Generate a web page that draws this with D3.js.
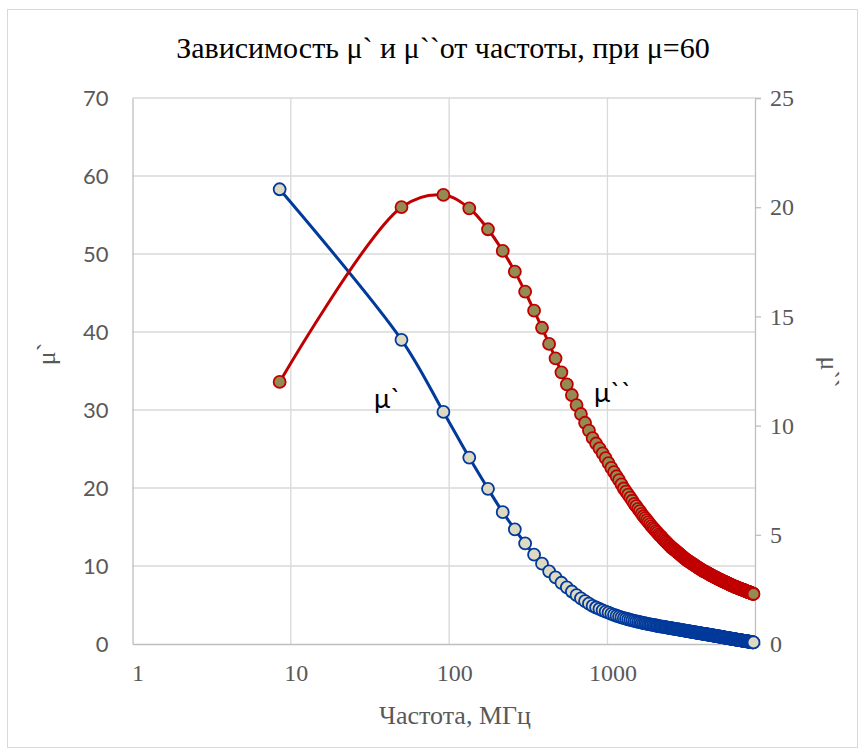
<!DOCTYPE html>
<html>
<head>
<meta charset="utf-8">
<script src="https://cdn.jsdelivr.net/npm/d3@7"></script>
<style>
  body { margin: 0; background: #fff; }
  svg { display: block; }
</style>
</head>
<body>
<svg id="chart" width="863" height="754"></svg>
<script>
// Frequency, MHz
const freqMHz = [8.5,
  50, 92, 134, 176, 218, 260, 302, 344, 386,
  428, 470, 512, 554, 596, 638, 680, 722, 764, 806,
  848, 890, 932, 974, 1016, 1058, 1100, 1142, 1184, 1226,
  1268, 1310, 1352, 1394, 1436, 1478, 1520, 1562, 1604, 1646,
  1688, 1730, 1772, 1814, 1856, 1898, 1940, 1982, 2024, 2066,
  2108, 2150, 2192, 2234, 2276, 2318, 2360, 2402, 2444, 2486,
  2528, 2570, 2612, 2654, 2696, 2738, 2780, 2822, 2864, 2906,
  2948, 2990, 3032, 3074, 3116, 3158, 3200, 3242, 3284, 3326,
  3368, 3410, 3452, 3494, 3536, 3578, 3620, 3662, 3704, 3746,
  3788, 3830, 3872, 3914, 3956, 3998, 4040, 4082, 4124, 4166,
  4208, 4250, 4292, 4334, 4376, 4418, 4460, 4502, 4544, 4586,
  4628, 4670, 4712, 4754, 4796, 4838, 4880, 4922, 4964, 5006,
  5048, 5090, 5132, 5174, 5216, 5258, 5300, 5342, 5384, 5426,
  5468, 5510, 5552, 5594, 5636, 5678, 5720, 5762, 5804, 5846,
  5888, 5930, 5972, 6014, 6056, 6098, 6140, 6182, 6224, 6266,
  6308, 6350, 6392, 6434, 6476, 6518, 6560, 6602, 6644, 6686,
  6728, 6770, 6812, 6854, 6896, 6938, 6980, 7022, 7064, 7106,
  7148, 7190, 7232, 7274, 7316, 7358, 7400, 7442, 7484, 7526,
  7568, 7610, 7652, 7694, 7736, 7778, 7820, 7862, 7904, 7946,
  7988, 8030, 8072, 8114, 8156, 8198, 8240, 8282, 8324, 8366];

// Real part of permeability, μ` (left axis)
const muReal = [58.3,
  39.0, 29.75, 23.9, 19.9, 16.9, 14.7, 12.9, 11.45, 10.3,
  9.32, 8.55, 7.85, 7.27, 6.73, 6.26, 5.86, 5.50, 5.17, 4.88,
  4.68, 4.49, 4.32, 4.16, 4.01, 3.87, 3.74, 3.62, 3.51, 3.41,
  3.31, 3.24, 3.17, 3.10, 3.03, 2.96, 2.91, 2.85, 2.80, 2.74,
  2.69, 2.65, 2.61, 2.56, 2.52, 2.48, 2.44, 2.41, 2.37, 2.34,
  2.30, 2.27, 2.24, 2.22, 2.19, 2.16, 2.13, 2.10, 2.08, 2.05,
  2.02, 2.00, 1.97, 1.95, 1.92, 1.90, 1.88, 1.86, 1.83, 1.81,
  1.79, 1.77, 1.75, 1.72, 1.70, 1.68, 1.66, 1.64, 1.62, 1.60,
  1.58, 1.56, 1.54, 1.53, 1.51, 1.49, 1.47, 1.46, 1.44, 1.43,
  1.41, 1.39, 1.37, 1.36, 1.34, 1.32, 1.31, 1.29, 1.28, 1.26,
  1.25, 1.23, 1.22, 1.20, 1.19, 1.17, 1.16, 1.14, 1.13, 1.11,
  1.10, 1.09, 1.07, 1.06, 1.04, 1.03, 1.02, 1.00, 0.99, 0.98,
  0.97, 0.96, 0.95, 0.93, 0.92, 0.91, 0.90, 0.88, 0.87, 0.85,
  0.84, 0.83, 0.82, 0.80, 0.79, 0.78, 0.77, 0.76, 0.75, 0.74,
  0.73, 0.72, 0.70, 0.69, 0.68, 0.67, 0.66, 0.65, 0.64, 0.63,
  0.62, 0.61, 0.60, 0.59, 0.58, 0.57, 0.56, 0.55, 0.54, 0.53,
  0.52, 0.51, 0.50, 0.50, 0.49, 0.48, 0.47, 0.46, 0.45, 0.44,
  0.43, 0.42, 0.41, 0.41, 0.40, 0.39, 0.38, 0.37, 0.37, 0.36,
  0.35, 0.34, 0.33, 0.33, 0.32, 0.31, 0.30, 0.29, 0.29, 0.28,
  0.27, 0.26, 0.25, 0.25, 0.24, 0.23, 0.22, 0.22, 0.21, 0.20];

// Imaginary part of permeability, μ`` (right axis)
const muImag = [12.0,
  20.0, 20.56, 19.95, 18.99, 18.0, 17.05, 16.13, 15.26, 14.48,
  13.74, 13.08, 12.44, 11.89, 11.40, 10.94, 10.53, 10.13, 9.77, 9.43,
  9.18, 8.96, 8.73, 8.51, 8.28, 8.06, 7.87, 7.68, 7.50, 7.31,
  7.12, 6.98, 6.84, 6.70, 6.56, 6.42, 6.31, 6.19, 6.08, 5.96,
  5.85, 5.76, 5.67, 5.58, 5.49, 5.40, 5.32, 5.25, 5.17, 5.10,
  5.02, 4.96, 4.90, 4.83, 4.77, 4.71, 4.65, 4.60, 4.54, 4.49,
  4.43, 4.39, 4.35, 4.31, 4.27, 4.23, 4.19, 4.15, 4.11, 4.07,
  4.03, 3.99, 3.96, 3.92, 3.89, 3.85, 3.82, 3.80, 3.77, 3.75,
  3.72, 3.69, 3.67, 3.64, 3.62, 3.59, 3.57, 3.54, 3.52, 3.49,
  3.47, 3.45, 3.43, 3.40, 3.38, 3.36, 3.34, 3.33, 3.31, 3.30,
  3.28, 3.26, 3.24, 3.23, 3.21, 3.19, 3.17, 3.16, 3.14, 3.13,
  3.11, 3.10, 3.08, 3.07, 3.05, 3.04, 3.03, 3.01, 3.00, 2.98,
  2.97, 2.96, 2.95, 2.93, 2.92, 2.91, 2.90, 2.88, 2.87, 2.86,
  2.85, 2.84, 2.83, 2.82, 2.81, 2.80, 2.79, 2.77, 2.76, 2.75,
  2.74, 2.73, 2.72, 2.71, 2.70, 2.69, 2.68, 2.67, 2.66, 2.65,
  2.64, 2.63, 2.62, 2.62, 2.61, 2.60, 2.59, 2.58, 2.58, 2.57,
  2.56, 2.55, 2.54, 2.54, 2.53, 2.52, 2.51, 2.50, 2.50, 2.49,
  2.49, 2.48, 2.47, 2.47, 2.46, 2.45, 2.44, 2.43, 2.43, 2.42,
  2.41, 2.40, 2.40, 2.39, 2.39, 2.38, 2.37, 2.37, 2.36, 2.36,
  2.35, 2.34, 2.34, 2.33, 2.33, 2.32, 2.31, 2.31, 2.30, 2.29];

const xTickValues = [1, 10, 100, 1000];
const leftTickValues = [0, 10, 20, 30, 40, 50, 60, 70];
const rightTickValues = [0, 5, 10, 15, 20, 25];

const titleText = "Зависимость μ` и μ``от частоты, при μ=60";
const xTitle = "Частота, МГц";
const leftTitle = "μ`";
const rightTitle = "μ``";
const realLabel = "μ`";
const imagLabel = "μ``";

const W = 863, H = 754;
const plot = { left: 132.5, right: 755, top: 98, bottom: 644 };

const svg = d3.select("#chart");
svg.append("rect").attr("width", W).attr("height", H).attr("fill", "#fff");
svg.append("rect")
  .attr("x", 7.5).attr("y", 9.5).attr("width", 850).attr("height", 738)
  .attr("fill", "none").attr("stroke", "#d9d9d9").attr("stroke-width", 1);

const x = d3.scaleLog().domain([1, 8550]).range([plot.left, plot.right]);
const yL = d3.scaleLinear().domain([0, 70]).range([plot.bottom, plot.top]);
const yR = d3.scaleLinear().domain([0, 25]).range([plot.bottom, plot.top]);

const gray = "#595959";
const serif = "'Liberation Serif', 'Times New Roman', serif";
const sans = "Lato, 'Liberation Sans', sans-serif";

// gridlines
const grid = svg.append("g");
grid.selectAll("line.h").data(leftTickValues.filter(d => d > 0)).join("line")
  .attr("x1", plot.left).attr("x2", plot.right)
  .attr("y1", d => yL(d)).attr("y2", d => yL(d))
  .attr("stroke", "#d9d9d9").attr("stroke-width", 1.3);
grid.selectAll("line.v").data(xTickValues.filter(d => d > 1)).join("line")
  .attr("x1", d => x(d)).attr("x2", d => x(d))
  .attr("y1", plot.top).attr("y2", plot.bottom)
  .attr("stroke", "#d9d9d9").attr("stroke-width", 1.3);

// left axis
const axL = svg.append("g").attr("transform", `translate(${plot.left},0)`)
  .call(d3.axisLeft(yL).tickValues(leftTickValues).tickSize(0).tickPadding(24));
axL.select(".domain").attr("stroke", "#bfbfbf").attr("stroke-width", 1.3);
axL.selectAll("text").style("font-family", sans).style("font-size", "22px").attr("fill", gray);

// bottom axis
const axB = svg.append("g").attr("transform", `translate(0,${plot.bottom})`)
  .call(d3.axisBottom(x).tickValues(xTickValues).tickFormat(d3.format("d")).tickSize(0).tickPadding(20));
axB.select(".domain").attr("stroke", "#bfbfbf").attr("stroke-width", 1.3);
axB.selectAll("text").style("font-family", serif).style("font-size", "24px").attr("fill", gray).attr("dx", 5);

// right axis
const axR = svg.append("g").attr("transform", `translate(${plot.right},0)`)
  .call(d3.axisRight(yR).tickValues(rightTickValues).tickSize(6).tickPadding(9));
axR.select(".domain").attr("stroke", "#bfbfbf").attr("stroke-width", 1.3);
axR.selectAll(".tick line").attr("stroke", "#bfbfbf").attr("stroke-width", 1.3);
axR.selectAll("text").style("font-family", serif).style("font-size", "24px").attr("fill", gray);

// titles
svg.append("text").attr("x", 443).attr("y", 58).attr("text-anchor", "middle")
  .style("font-family", serif).style("font-size", "30px").attr("fill", "#000").text(titleText);
svg.append("text").attr("x", 455).attr("y", 724).attr("text-anchor", "middle")
  .style("font-family", serif).style("font-size", "26px").attr("fill", gray).text(xTitle);
svg.append("text").attr("transform", "translate(55,354) rotate(-90)").attr("text-anchor", "middle")
  .style("font-family", serif).style("font-size", "26px").attr("fill", gray).text(leftTitle);
svg.append("text").attr("transform", "translate(821,372) rotate(90)").attr("text-anchor", "middle")
  .style("font-family", serif).style("font-size", "26px").attr("fill", gray).text(rightTitle);

// series
const realPts = freqMHz.map((f, i) => [x(f), yL(muReal[i])]);
const imagPts = freqMHz.map((f, i) => [x(f), yR(muImag[i])]);
const line = d3.line().curve(d3.curveCatmullRom.alpha(0.5));

function drawSeries(pts, lineColor, fillColor) {
  const g = svg.append("g");
  g.append("path").attr("d", line(pts)).attr("fill", "none")
    .attr("stroke", lineColor).attr("stroke-width", 3).attr("stroke-linejoin", "round");
  g.selectAll("circle").data(pts).join("circle")
    .attr("cx", d => d[0]).attr("cy", d => d[1]).attr("r", 6)
    .attr("fill", fillColor).attr("stroke", lineColor).attr("stroke-width", 1.8);
}
drawSeries(realPts, "#003a9b", "#ddd9c3");
drawSeries(imagPts, "#c00000", "#948a54");

// series labels inside the plot
svg.append("text").attr("x", 374).attr("y", 408)
  .style("font-family", sans).style("font-size", "27px").attr("fill", "#000").text(realLabel);
svg.append("text").attr("x", 594).attr("y", 402)
  .style("font-family", sans).style("font-size", "27px").attr("fill", "#000").text(imagLabel);
</script>
</body>
</html>
